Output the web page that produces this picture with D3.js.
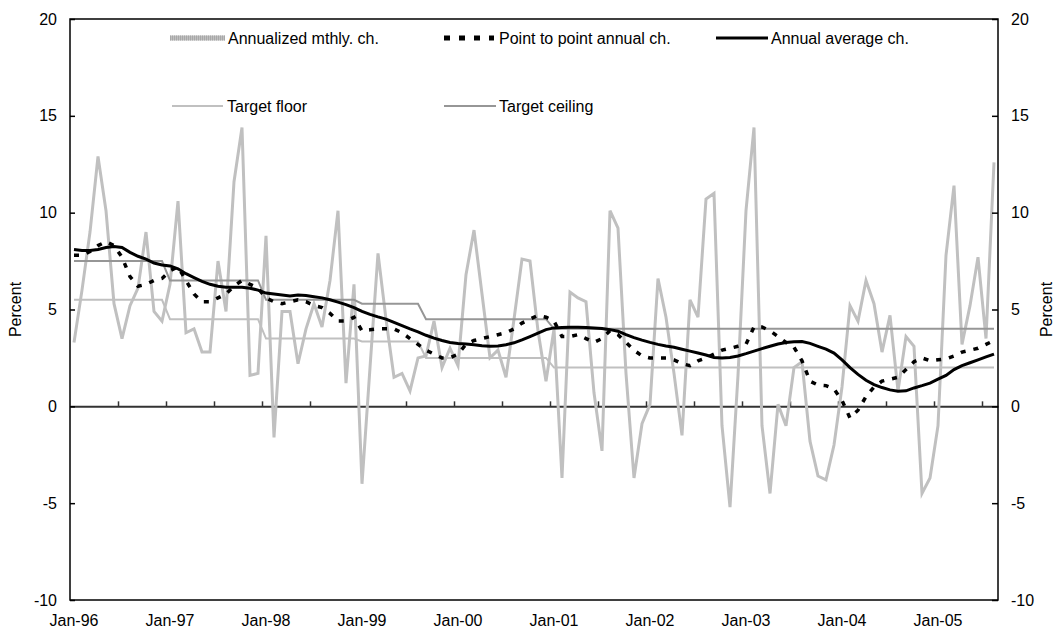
<!DOCTYPE html>
<html>
<head>
<meta charset="utf-8">
<script src="https://cdn.jsdelivr.net/npm/d3@7"></script>
<style>
  body { margin: 0; background: #fff; }
  svg { font-family: "Liberation Sans", Arial, sans-serif; }
</style>
</head>
<body>
<div id="chart"></div>
<script>
// monthly categories Jan-96 .. Aug-05
const months = d3.timeMonth.range(new Date(1996, 0, 1), new Date(2005, 8, 1));

const yTicks = [-10, -5, 0, 5, 10, 15, 20];

const monthly = [
  3.3, 6.0, 9.0, 12.9, 10.1, 5.3, 3.5, 5.2, 6.1, 9.0, 4.9, 4.4,
  6.3, 10.6, 3.8, 4.0, 2.8, 2.8, 7.5, 4.9, 11.6, 14.4, 1.6, 1.7,
  8.8, -1.6, 4.9, 4.9, 2.2, 4.0, 5.3, 4.1, 6.5, 10.1, 1.2, 6.3,
  -4.0, 2.0, 7.9, 4.5, 1.5, 1.7, 0.8, 2.5, 2.6, 4.4, 2.0, 3.0,
  2.1, 6.8, 9.1, 5.8, 2.5, 2.9, 1.5, 4.5, 7.6, 7.5, 3.9, 1.3,
  4.0, -3.7, 5.9, 5.6, 5.4, 0.7, -2.3, 10.1, 9.2, 1.7, -3.7, -0.9,
  0.1, 6.6, 4.6, 1.7, -1.5, 5.5, 4.6, 10.7, 11.0, -1.0, -5.2, 1.6,
  10.1, 14.4, -1.0, -4.5, 0.1, -1.0, 2.0, 2.3, -1.8, -3.6, -3.8, -2.0,
  1.0, 5.2, 4.4, 6.5, 5.3, 2.8, 4.7, 0.8, 3.6, 3.1, -4.5, -3.7,
  -1.0, 7.8, 11.4, 3.2, 5.2, 7.7, 3.5, 12.6
];

const pointToPoint = [
  7.8, 7.8, 8.0, 8.3, 8.5, 8.3, 7.7, 6.7, 6.2, 6.3, 6.5, 6.6,
  7.0, 7.2, 6.5, 5.8, 5.4, 5.4, 5.6, 5.8, 6.2, 6.5, 6.3, 6.1,
  5.6, 5.4, 5.3, 5.4, 5.5, 5.4, 5.2, 5.1, 4.8, 4.4, 4.4, 4.6,
  3.9, 3.95, 4.0, 4.0, 4.0, 3.8, 3.5, 3.2, 2.9, 2.7, 2.5, 2.5,
  2.7, 3.2, 3.4, 3.5, 3.6, 3.7, 3.8, 4.0, 4.3, 4.5, 4.7, 4.6,
  4.4, 3.6, 3.6, 3.7, 3.5, 3.3, 3.5, 3.9, 3.7, 3.3, 2.9, 2.6,
  2.5, 2.5, 2.5, 2.4, 2.2, 2.1, 2.35, 2.5, 2.7, 2.9, 3.0, 3.1,
  3.2, 4.1, 4.1, 3.9, 3.6, 3.3, 3.05, 2.35, 1.3, 1.1, 1.07, 0.9,
  0.3, -0.6, -0.2, 0.5, 1.0, 1.3, 1.4, 1.5, 1.9, 2.3, 2.5, 2.35,
  2.4, 2.45, 2.6, 2.8, 2.9, 3.0, 3.2, 3.4
];

const annualAvg = [
  8.1, 8.05, 8.05, 8.1, 8.2, 8.25, 8.2, 7.95, 7.75, 7.6, 7.4, 7.3,
  7.25, 7.1, 6.85, 6.65, 6.45, 6.3, 6.2, 6.15, 6.15, 6.15, 6.1, 6.0,
  5.85, 5.8, 5.75, 5.7, 5.75, 5.72, 5.66, 5.6, 5.5, 5.38, 5.25, 5.1,
  4.9, 4.75, 4.62, 4.5, 4.33, 4.17, 4.0, 3.85, 3.67, 3.52, 3.4, 3.3,
  3.25, 3.22, 3.18, 3.13, 3.1, 3.12, 3.18, 3.28, 3.43, 3.6, 3.78, 3.96,
  4.05, 4.07, 4.08, 4.08, 4.07, 4.05, 4.02, 3.96, 3.88, 3.7, 3.55, 3.42,
  3.3, 3.2, 3.12, 3.05, 2.95, 2.85, 2.75, 2.65, 2.52, 2.5, 2.52, 2.6,
  2.72, 2.85, 2.98, 3.1, 3.22, 3.3, 3.33, 3.35, 3.25, 3.1, 2.95, 2.75,
  2.4, 2.0, 1.65, 1.35, 1.12, 0.97, 0.85, 0.78, 0.8, 0.95, 1.07, 1.2,
  1.4, 1.6, 1.9, 2.1, 2.25, 2.4, 2.55, 2.7
];

const targetFloor = [
  5.5, 5.5, 5.5, 5.5, 5.5, 5.5, 5.5, 5.5, 5.5, 5.5, 5.5, 5.5,
  4.5, 4.5, 4.5, 4.5, 4.5, 4.5, 4.5, 4.5, 4.5, 4.5, 4.5, 4.5,
  3.5, 3.5, 3.5, 3.5, 3.5, 3.5, 3.5, 3.5, 3.5, 3.5, 3.5, 3.5,
  3.35, 3.35, 3.35, 3.35, 3.35, 3.35, 3.35, 3.35, 2.5, 2.5, 2.5, 2.5,
  2.5, 2.5, 2.5, 2.5, 2.5, 2.5, 2.5, 2.5, 2.5, 2.5, 2.5, 2.5,
  2, 2, 2, 2, 2, 2, 2, 2, 2, 2, 2, 2,
  2, 2, 2, 2, 2, 2, 2, 2, 2, 2, 2, 2,
  2, 2, 2, 2, 2, 2, 2, 2, 2, 2, 2, 2,
  2, 2, 2, 2, 2, 2, 2, 2, 2, 2, 2, 2,
  2, 2, 2, 2, 2, 2, 2, 2
];

const targetCeiling = [
  7.5, 7.5, 7.5, 7.5, 7.5, 7.5, 7.5, 7.5, 7.5, 7.5, 7.5, 7.5,
  6.5, 6.5, 6.5, 6.5, 6.5, 6.5, 6.5, 6.5, 6.5, 6.5, 6.5, 6.5,
  5.5, 5.5, 5.5, 5.5, 5.5, 5.5, 5.5, 5.5, 5.5, 5.5, 5.5, 5.5,
  5.3, 5.3, 5.3, 5.3, 5.3, 5.3, 5.3, 5.3, 4.5, 4.5, 4.5, 4.5,
  4.5, 4.5, 4.5, 4.5, 4.5, 4.5, 4.5, 4.5, 4.5, 4.5, 4.5, 4.5,
  4, 4, 4, 4, 4, 4, 4, 4, 4, 4, 4, 4,
  4, 4, 4, 4, 4, 4, 4, 4, 4, 4, 4, 4,
  4, 4, 4, 4, 4, 4, 4, 4, 4, 4, 4, 4,
  4, 4, 4, 4, 4, 4, 4, 4, 4, 4, 4, 4,
  4, 4, 4, 4, 4, 4, 4, 4
];

const W = 1058, H = 631;
const plotL = 70, plotR = 998, plotT = 19, plotB = 600;

const svg = d3.select("#chart").append("svg")
  .attr("width", W)
  .attr("height", H);

const x = d3.scaleBand().domain(d3.range(months.length)).range([plotL, plotR]);
const cx = i => x(i) + x.bandwidth() / 2;
const y = d3.scaleLinear().domain([-10, 20]).range([plotB, plotT]);
// category boundaries, used for the tick marks on the zero line
const xEdge = d3.scaleLinear().domain([0, months.length]).range([plotL, plotR]);

// zero line with half-year tick marks
const zero = svg.append("g")
  .attr("transform", "translate(0," + y(0) + ")")
  .call(d3.axisBottom(xEdge).tickValues(d3.range(6, months.length, 6)).tickSize(-5).tickSizeOuter(0).tickFormat(""));
zero.select(".domain").attr("stroke", "#333").attr("stroke-width", 2);
zero.selectAll(".tick line").attr("stroke", "#333").attr("stroke-width", 1.5);

function line(values) {
  return d3.line().x((d, i) => cx(i)).y(d => y(d))(values);
}

svg.append("path").attr("d", line(monthly))
  .attr("fill", "none").attr("stroke", "#c0c0c0").attr("stroke-width", 3);
svg.append("path").attr("d", line(targetFloor))
  .attr("fill", "none").attr("stroke", "#c0c0c0").attr("stroke-width", 2);
svg.append("path").attr("d", line(targetCeiling))
  .attr("fill", "none").attr("stroke", "#969696").attr("stroke-width", 2);
svg.append("path").attr("d", line(pointToPoint))
  .attr("fill", "none").attr("stroke", "#000").attr("stroke-width", 3.5)
  .attr("stroke-dasharray", "5,8");
svg.append("path").attr("d", line(annualAvg))
  .attr("fill", "none").attr("stroke", "#000").attr("stroke-width", 3);

// frame
svg.append("rect")
  .attr("x", plotL).attr("y", plotT)
  .attr("width", plotR - plotL).attr("height", plotB - plotT)
  .attr("fill", "none").attr("stroke", "#000").attr("stroke-width", 1.5);

const fmt = d => String(d);
const leftAxis = svg.append("g")
  .attr("transform", "translate(" + plotL + ",0)")
  .call(d3.axisLeft(y).tickValues(yTicks).tickFormat(fmt).tickSize(-5).tickSizeOuter(0).tickPadding(13));
const rightAxis = svg.append("g")
  .attr("transform", "translate(" + plotR + ",0)")
  .call(d3.axisRight(y).tickValues(yTicks).tickFormat(fmt).tickSize(-6).tickSizeOuter(0).tickPadding(13));
[leftAxis, rightAxis].forEach(g => {
  g.select(".domain").remove();
  g.selectAll(".tick line").attr("stroke", "#000").attr("stroke-width", 1.5);
  g.selectAll("text").attr("font-size", 16).attr("fill", "#000")
    .attr("font-family", "Liberation Sans, Arial, sans-serif");
});

// month labels, one per year
svg.append("g").selectAll("text")
  .data(months.map((m, i) => i).filter(i => i % 12 === 0))
  .enter().append("text")
  .attr("x", d => cx(d))
  .attr("y", 626)
  .attr("text-anchor", "middle")
  .attr("font-size", 16)
  .text(d => d3.timeFormat("%b-%y")(months[d]));

svg.append("text")
  .attr("transform", "translate(21," + (plotT + plotB) / 2 + ") rotate(-90)")
  .attr("text-anchor", "middle").attr("font-size", 16)
  .text("Percent");
svg.append("text")
  .attr("transform", "translate(1052," + (plotT + plotB) / 2 + ") rotate(-90)")
  .attr("text-anchor", "middle").attr("font-size", 16)
  .text("Percent");

// legend
const legend = [
  {name: "Annualized mthly. ch.", x0: 170, x1: 225, tx: 228, y: 38, kind: "monthly"},
  {name: "Point to point annual ch.", x0: 444, x1: 494, tx: 499, y: 38, kind: "p2p"},
  {name: "Annual average ch.", x0: 716, x1: 768, tx: 771, y: 38, kind: "avg"},
  {name: "Target floor", x0: 172, x1: 223, tx: 227, y: 106, kind: "floor"},
  {name: "Target ceiling", x0: 444, x1: 496, tx: 499, y: 106, kind: "ceiling"}
];
const lg = svg.append("g").selectAll("g").data(legend).enter().append("g");
lg.append("line")
  .attr("x1", d => d.x0).attr("x2", d => d.x1)
  .attr("y1", d => d.y).attr("y2", d => d.y)
  .attr("stroke", d => d.kind === "monthly" ? "#c0c0c0" : d.kind === "floor" ? "#c0c0c0" : d.kind === "ceiling" ? "#969696" : "#000")
  .attr("stroke-width", d => d.kind === "monthly" ? 5 : d.kind === "p2p" ? 5 : d.kind === "avg" ? 3 : 2)
  .attr("stroke-dasharray", d => d.kind === "p2p" ? "6,9" : null);
lg.filter(d => d.kind === "monthly").append("line")
  .attr("x1", d => d.x0).attr("x2", d => d.x1)
  .attr("y1", d => d.y).attr("y2", d => d.y)
  .attr("stroke", "#a8a8a8").attr("stroke-width", 5)
  .attr("stroke-dasharray", "1,1");
lg.append("text")
  .attr("x", d => d.tx).attr("y", d => d.y)
  .attr("dy", "0.35em").attr("font-size", 16)
  .text(d => d.name);
</script>
</body>
</html>
